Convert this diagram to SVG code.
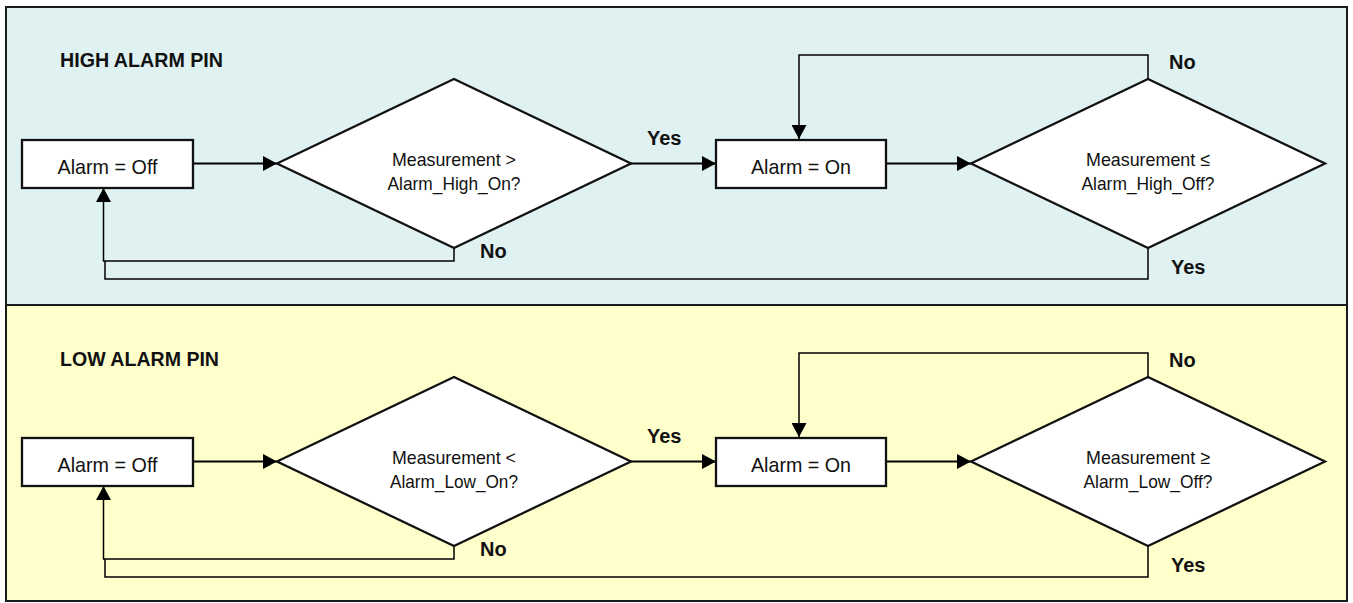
<svg xmlns="http://www.w3.org/2000/svg" width="1353" height="603" viewBox="0 0 1353 603">
<defs>
<marker id="arr" markerUnits="userSpaceOnUse" markerWidth="15" markerHeight="15" refX="14" refY="7.5" orient="auto"><path d="M0,0 L14,7.5 L0,15 z" fill="#000"/></marker>
<style>
.box{fill:#fff;stroke:#111;stroke-width:2.3}
.t{font-family:"Liberation Sans",Arial,sans-serif;fill:#111}
.node{font-size:21px;text-anchor:middle}
.q{font-size:19px;text-anchor:middle}
.lbl{font-size:20px;font-weight:bold}
.hdr{font-size:21px;font-weight:bold}
.c{fill:none;stroke:#000;stroke-width:2}
.r{fill:none;stroke:#000;stroke-width:1.5}
</style>
</defs>
<g id="background">
<rect x="6" y="7" width="1341" height="298" fill="#E0F1F1"/>
<rect x="6" y="305" width="1341" height="296" fill="#FFFFCC"/>
<line x1="6" y1="305" x2="1347" y2="305" stroke="#1a1a1a" stroke-width="2"/>
<rect x="6" y="7" width="1341" height="594" fill="none" stroke="#1a1a1a" stroke-width="2"/>
</g>

<g id="high-panel">
<text id="high-title" class="t hdr" x="60" y="66.5" textLength="163" lengthAdjust="spacingAndGlyphs">HIGH ALARM PIN</text>
<g id="connectors-high">
<path class="c" d="M193,163.5 H277" marker-end="url(#arr)"/>
<path class="c" d="M631,163.5 H716" marker-end="url(#arr)"/>
<path class="c" d="M886,163.5 H971" marker-end="url(#arr)"/>
<path class="r" d="M1148,79 V55 H799 V139" marker-end="url(#arr)"/>
<path class="r" d="M454,248 V261 H103.5 V188" marker-end="url(#arr)"/>
<path class="r" d="M1148,248 V279 H105 V261"/>
<text class="t lbl" x="647" y="145">Yes</text>
<text class="t lbl" x="480" y="258">No</text>
<text class="t lbl" x="1169" y="69">No</text>
<text class="t lbl" x="1171" y="274">Yes</text>
</g>
<g id="high-off">
<rect class="box" x="22" y="140" width="171" height="48"/>
<text class="t node" x="107.5" y="174" textLength="100" lengthAdjust="spacingAndGlyphs">Alarm = Off</text>
</g>
<g id="high-check-on">
<polygon class="box" points="277,163.5 454,79 631,163.5 454,248"/>
<text class="t q" x="454" y="165.5" textLength="124" lengthAdjust="spacingAndGlyphs">Measurement &gt;</text>
<text class="t q" x="454" y="189.5" textLength="133" lengthAdjust="spacingAndGlyphs">Alarm_High_On?</text>
</g>
<g id="high-on">
<rect class="box" x="716" y="140" width="170" height="48"/>
<text class="t node" x="801" y="174" textLength="100" lengthAdjust="spacingAndGlyphs">Alarm = On</text>
</g>
<g id="high-check-off">
<polygon class="box" points="971,163.5 1148,79 1325,163.5 1148,248"/>
<text class="t q" x="1148" y="165.5" textLength="124" lengthAdjust="spacingAndGlyphs">Measurement ≤</text>
<text class="t q" x="1148" y="189.5" textLength="133" lengthAdjust="spacingAndGlyphs">Alarm_High_Off?</text>
</g>
</g>

<g id="low-panel" transform="translate(0,298)">
<text id="low-title" class="t hdr" x="60" y="68" textLength="159" lengthAdjust="spacingAndGlyphs">LOW ALARM PIN</text>
<g id="connectors-low">
<path class="c" d="M193,163.5 H277" marker-end="url(#arr)"/>
<path class="c" d="M631,163.5 H716" marker-end="url(#arr)"/>
<path class="c" d="M886,163.5 H971" marker-end="url(#arr)"/>
<path class="r" d="M1148,79 V55 H799 V139" marker-end="url(#arr)"/>
<path class="r" d="M454,248 V261 H103.5 V188" marker-end="url(#arr)"/>
<path class="r" d="M1148,248 V279 H105 V261"/>
<text class="t lbl" x="647" y="145">Yes</text>
<text class="t lbl" x="480" y="258">No</text>
<text class="t lbl" x="1169" y="69">No</text>
<text class="t lbl" x="1171" y="274">Yes</text>
</g>
<g id="low-off">
<rect class="box" x="22" y="140" width="171" height="48"/>
<text class="t node" x="107.5" y="174" textLength="100" lengthAdjust="spacingAndGlyphs">Alarm = Off</text>
</g>
<g id="low-check-on">
<polygon class="box" points="277,163.5 454,79 631,163.5 454,248"/>
<text class="t q" x="454" y="165.5" textLength="124" lengthAdjust="spacingAndGlyphs">Measurement &lt;</text>
<text class="t q" x="454" y="189.5" textLength="128" lengthAdjust="spacingAndGlyphs">Alarm_Low_On?</text>
</g>
<g id="low-on">
<rect class="box" x="716" y="140" width="170" height="48"/>
<text class="t node" x="801" y="174" textLength="100" lengthAdjust="spacingAndGlyphs">Alarm = On</text>
</g>
<g id="low-check-off">
<polygon class="box" points="971,163.5 1148,79 1325,163.5 1148,248"/>
<text class="t q" x="1148" y="165.5" textLength="124" lengthAdjust="spacingAndGlyphs">Measurement ≥</text>
<text class="t q" x="1148" y="189.5" textLength="129" lengthAdjust="spacingAndGlyphs">Alarm_Low_Off?</text>
</g>
</g>
</svg>
